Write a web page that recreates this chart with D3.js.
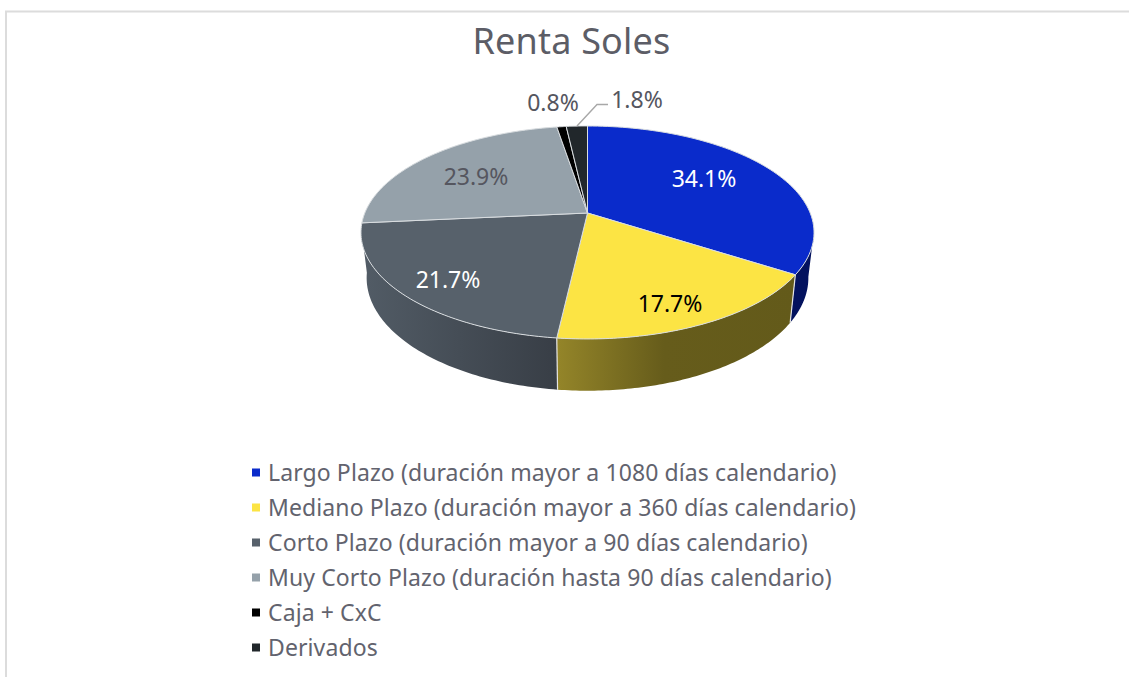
<!DOCTYPE html>
<html><head><meta charset="utf-8">
<script src="https://cdn.jsdelivr.net/npm/d3@7/dist/d3.min.js"></script>
<style>html,body{margin:0;padding:0;background:#fff}svg{display:block}text{font-family:"Noto Sans",sans-serif}</style>
</head><body><svg id="c" width="1129" height="677"></svg>
<script>
const title = "Renta Soles";
const categories = [
 "Largo Plazo (duración mayor a 1080 días calendario)",
 "Mediano Plazo (duración mayor a 360 días calendario)",
 "Corto Plazo (duración mayor a 90 días calendario)",
 "Muy Corto Plazo (duración hasta 90 días calendario)",
 "Caja + CxC",
 "Derivados"];
const values = [34.1, 17.7, 21.7, 23.9, 0.8, 1.8];
const colors = ["#0A2BCB", "#FCE444", "#57616B", "#95A1AA", "#000000", "#21272B"];
const labelColors = ["#ffffff", "#000000", "#ffffff", "#55565f", "#55565f", "#55565f"];
const labelCenters = [[704,179],[670,304],[448,280],[476,177],[553,103],[637,100]];

const svg = d3.select("#c");
const defs = svg.append("defs");
const apex = {x:587.5, y:213};
const c = -0.183, A = 102.9, D = 222.7;
const DEPTH_X = 0.975, DEPTH_Y = 1.06, DEPTH_DY = 44.2;
function project(t){ const u=Math.sin(t), v=-Math.cos(t), w=1+c*v; return [D*u/w, A*v/w]; }
const P = p => [apex.x+p[0], apex.y+p[1]];
const T = t => P(project(t));
const B = t => { const p=project(t); return P([p[0]*DEPTH_X, p[1]*DEPTH_Y+DEPTH_DY]); };
const sample = (a,b,n=80) => d3.range(n+1).map(i=>a+(b-a)*i/n);
const line = d3.line();

// border
svg.append("path").attr("d", line([[6,677],[6,11.5],[1129,11.5]])).attr("fill","none").attr("stroke","#dcdcdc").attr("stroke-width",2);

// title
svg.append("text").attr("x",571.5).attr("y",54).attr("text-anchor","middle").attr("font-size",36).attr("letter-spacing",0.2).attr("fill","#5c5d66").text(title);

const arcs = d3.pie().sort(null).value(d=>d)(values);

// gradients for side walls
function grad(id,x1,x2,stops){
  const g = defs.append("linearGradient").attr("id",id).attr("gradientUnits","userSpaceOnUse").attr("x1",x1).attr("x2",x2).attr("y1",0).attr("y2",0);
  stops.forEach(s=>g.append("stop").attr("offset",s[0]).attr("stop-color",s[1]));
}
grad("gy",557,795,[[0,"#948529"],[0.45,"#665C1B"],[1,"#635A1A"]]);
grad("gc",362,557,[[0,"#525C66"],[1,"#383E46"]]);
const wallFill = ["#03125E","url(#gy)","url(#gc)"];

// side walls, back to front: outer slices first
const rad = Math.PI/180;
const wallRange = [[100*rad, arcs[0].endAngle],[arcs[1].startAngle, arcs[1].endAngle],[arcs[2].startAngle, 262*rad]];
[0,2,1].forEach(i=>{
  const [a,b]=wallRange[i];
  const s=sample(a,b);
  const pts=s.map(T).concat(s.slice().reverse().map(B));
  svg.append("path").attr("d",line(pts)+"Z").attr("fill",wallFill[i]);
});
// seams
[arcs[0].endAngle, arcs[1].endAngle].forEach(t=>{
  svg.append("path").attr("d",line([T(t),B(t)])).attr("stroke","#e4e4e4").attr("stroke-width",1.2).attr("fill","none");
});

// top face
arcs.forEach((d,i)=>{
  const pts=[[apex.x,apex.y]].concat(sample(d.startAngle,d.endAngle).map(T));
  svg.append("path").attr("d",line(pts)+"Z").attr("fill",colors[i]).attr("stroke","#d9dde0").attr("stroke-width",1).attr("stroke-linejoin","round");
});

// leader line
svg.append("path").attr("d",line([[577,126],[597,104.5],[608,104.5]])).attr("fill","none").attr("stroke","#a8a8a8").attr("stroke-width",1.4);

// labels
arcs.forEach((d,i)=>{
  svg.append("text").attr("x",labelCenters[i][0]).attr("y",labelCenters[i][1]).attr("dy","0.36em")
    .attr("text-anchor","middle").attr("font-size",23).attr("fill",labelColors[i]).text(values[i].toFixed(1)+"%");
});

// legend
const ly = d3.scalePoint().domain(d3.range(categories.length)).range([473,648]);
categories.forEach((t,i)=>{
  svg.append("rect").attr("x",252).attr("y",ly(i)-4.5).attr("width",8).attr("height",8).attr("fill",colors[i]);
  svg.append("text").attr("x",268).attr("y",ly(i)).attr("dy","0.36em").attr("font-size",23).attr("letter-spacing",0.1).attr("fill","#62636e").text(t);
});
</script></body></html>
